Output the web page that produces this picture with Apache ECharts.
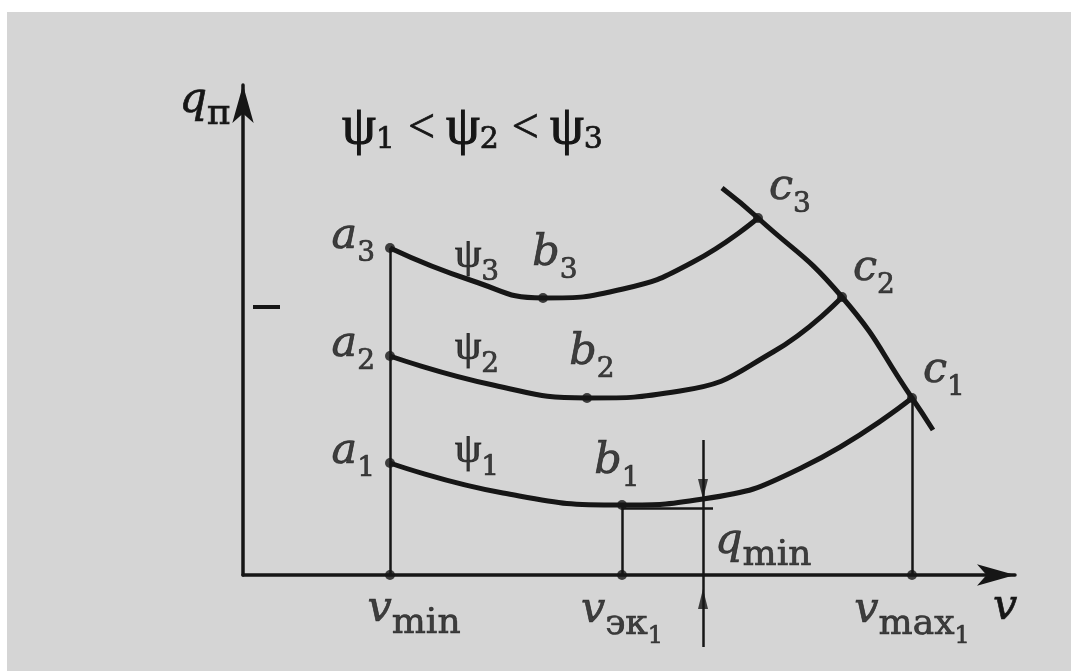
<!DOCTYPE html>
<html>
<head>
<meta charset="utf-8">
<script src="https://cdn.jsdelivr.net/npm/echarts@6/dist/echarts.min.js"></script>
<style>
  html, body { margin: 0; padding: 0; background: #fff; }
  #chart { position: absolute; left: 7px; top: 12px; width: 1064px; height: 659px; background: #d5d5d5; }
</style>
</head>
<body>
<div id="chart"></div>
<script>
// schematic units: v along x, q_п along y
const vAxisMax = 772;
const qAxisMax = 490;

const curvePsi1 = [[147,112],[260,82],[379,70],[460,76],[560,108],[669,177]];
const curvePsi2 = [[147,219],[250,190],[344,177],[437,184],[530,223],[599,278]];
const curvePsi3 = [[147,327],[230,294],[300,277],[380,286],[450,313],[515,357]];
const curveC = [[479,387],[515,357],[599,278],[669,177],[690,145]];

const aPoints = [[147,112],[147,219],[147,327]];
const bPoints = [[379,70],[344,177],[300,277]];
const cPoints = [[669,177],[599,278],[515,357]];
const vTicks = [147, 379, 669];
const vTickSubs = ['min', 'эк', 'max'];
const vTickSubSubs = ['', '1', '1'];

// q_min dimension
const qMinX = 460;
const qMinLevel = 67;
const qMinLineTop = 135;
const qMinLineBottom = -72;
const qMinArrowDownTip = 76;
const qMinArrowUpTip = -14;
const qMinLevelEnd = 470;

const strayTick = [[10,268],[37,268]];

const ink = '#161616';
const serif = "'DejaVu Serif', serif";
const greek = "'Liberation Serif', 'Times New Roman', serif";

function txt(extra) {
  return Object.assign({ fontFamily: serif, color: ink, textBorderColor: ink, textBorderWidth: 0.7 }, extra);
}

// subscripts are pushed down with top padding (content shifts by half of it)
const rich = {
  i: txt({ fontStyle: 'italic', fontSize: 43, lineHeight: 50 }),
  p: txt({ fontFamily: greek, fontSize: 42, lineHeight: 50, textBorderWidth: 1.1 }),
  s: txt({ fontSize: 28, lineHeight: 20, padding: [33, 0, 0, 0] }),
  t: txt({ fontSize: 36, lineHeight: 20, padding: [28, 0, 0, 0] }),
  ss: txt({ fontSize: 24, lineHeight: 20, padding: [52, 0, 0, 0] })
};

const titleRich = {
  p: txt({ fontFamily: greek, fontSize: 54, lineHeight: 56, textBorderWidth: 1.1 }),
  d: txt({ fontSize: 30, lineHeight: 20, padding: [22, 0, 0, 0] }),
  lt: txt({ fontFamily: greek, fontSize: 48, lineHeight: 56, padding: [0, 11, 0, 13] })
};

const labelLayout = {
  a: [{ position: 'left', distance: 10, offset: [0, -11] }, { position: 'left', distance: 10, offset: [0, -11] }, { position: 'left', distance: 10, offset: [0, -11] }],
  b: [{ position: 'top', distance: 13, offset: [-5, 0] }, { position: 'top', distance: 15, offset: [5, 0] }, { position: 'top', distance: 14, offset: [12, 0] }],
  c: [{ position: 'right', distance: 6, offset: [0, -27] }, { position: 'right', distance: 6, offset: [0, -28] }, { position: 'right', distance: 6, offset: [0, -30] }],
  v: [{ position: 'bottom', distance: 5, offset: [24, 0] }, { position: 'bottom', distance: 6, offset: [0, 0] }, { position: 'bottom', distance: 6, offset: [0, 0] }],
  psi: [{ position: 'inside', offset: [-26, -42] }, { position: 'inside', offset: [-16, -37] }, { position: 'inside', offset: [4, -25] }]
};

function pointItem(value, text, layout) {
  return { value: value, label: Object.assign({ show: true, formatter: text, color: ink, rich: rich }, layout) };
}

const dotData = []
  .concat(aPoints.map((p, k) => pointItem(p, '{i|a}{s|' + (k + 1) + '}', labelLayout.a[k])))
  .concat(bPoints.map((p, k) => pointItem(p, '{i|b}{s|' + (k + 1) + '}', labelLayout.b[k])))
  .concat(cPoints.map((p, k) => pointItem(p, '{i|c}{s|' + (k + 1) + '}', labelLayout.c[k])))
  .concat(vTicks.map((v, k) => pointItem([v, 0], '{i|v}{t|' + vTickSubs[k] + '}' + (vTickSubSubs[k] ? '{ss|' + vTickSubSubs[k] + '}' : ''), labelLayout.v[k])));

const psiAnchors = [curvePsi1[1], curvePsi2[1], curvePsi3[1]];
const psiData = psiAnchors.map((p, k) => pointItem(p, '{p|ψ}{s|' + (k + 1) + '}', labelLayout.psi[k]));

const guideCoords = [
  [[vTicks[0], 0], aPoints[2]],
  [[vTicks[1], 0], bPoints[0]],
  [[vTicks[2], 0], cPoints[0]],
  [[qMinX, qMinLineTop], [qMinX, qMinLineBottom]],
  [[bPoints[0][0], qMinLevel], [qMinLevelEnd, qMinLevel]]
];

function curveSeries(data) {
  return { type: 'line', data: data, smooth: true, symbol: 'none', silent: true,
    lineStyle: { color: ink, width: 5 }, z: 3 };
}

const chart = echarts.init(document.getElementById('chart'));
chart.setOption({
  animation: false,
  backgroundColor: '#d5d5d5',
  title: {
    text: '{p|ψ}{d|1}{lt|<}{p|ψ}{d|2}{lt|<}{p|ψ}{d|3}',
    left: 335, top: 89, padding: 0,
    textStyle: { fontWeight: 'normal', rich: titleRich }
  },
  grid: { left: 236, top: 73, width: 772, height: 490 },
  xAxis: {
    type: 'value', min: 0, max: vAxisMax,
    name: '{i|v}', nameLocation: 'end', nameGap: -22,
    nameTextStyle: { rich: rich, align: 'left', verticalAlign: 'top', padding: [8, 0, 0, 0] },
    axisLine: { onZero: false, symbol: ['none', 'arrow'], symbolSize: [16, 38], lineStyle: { color: ink, width: 3.5 } },
    axisTick: { show: false }, axisLabel: { show: false }, splitLine: { show: false }
  },
  yAxis: {
    type: 'value', min: 0, max: qAxisMax,
    name: '{i|q}{t|п}', nameLocation: 'end', nameGap: -16,
    nameTextStyle: { rich: rich, align: 'right', verticalAlign: 'middle', padding: [0, 12, 0, 0] },
    axisLine: { onZero: false, symbol: ['none', 'arrow'], symbolSize: [16, 38], lineStyle: { color: ink, width: 3.5 } },
    axisTick: { show: false }, axisLabel: { show: false }, splitLine: { show: false }
  },
  series: [
    curveSeries(curvePsi1),
    curveSeries(curvePsi2),
    curveSeries(curvePsi3),
    curveSeries(curveC),
    {
      type: 'lines', coordinateSystem: 'cartesian2d', clip: false, silent: true,
      lineStyle: { color: ink, width: 2.5, opacity: 1 },
      data: guideCoords.map(c => ({ coords: c })), z: 2
    },
    {
      type: 'lines', coordinateSystem: 'cartesian2d', clip: false, silent: true,
      lineStyle: { color: ink, width: 4, opacity: 1 },
      data: [{ coords: strayTick }], z: 2
    },
    {
      type: 'scatter', clip: false, silent: true, z: 4,
      symbol: 'triangle', symbolSize: [10, 20], itemStyle: { color: ink },
      data: [
        { value: [qMinX, qMinArrowDownTip], symbolRotate: 180, symbolOffset: [0, '-50%'] },
        { value: [qMinX, qMinArrowUpTip], symbolRotate: 0, symbolOffset: [0, '50%'] }
      ]
    },
    {
      type: 'scatter', clip: false, silent: true, z: 5,
      symbolSize: 10, itemStyle: { color: ink },
      data: dotData
    },
    {
      type: 'scatter', clip: false, silent: true, z: 5,
      symbolSize: 0,
      data: psiData.concat([pointItem([qMinX, qMinLevel / 2], '{i|q}{t|min}', { position: 'right', distance: 12, offset: [0, 0] })])
    }
  ]
});
</script>
</body>
</html>
